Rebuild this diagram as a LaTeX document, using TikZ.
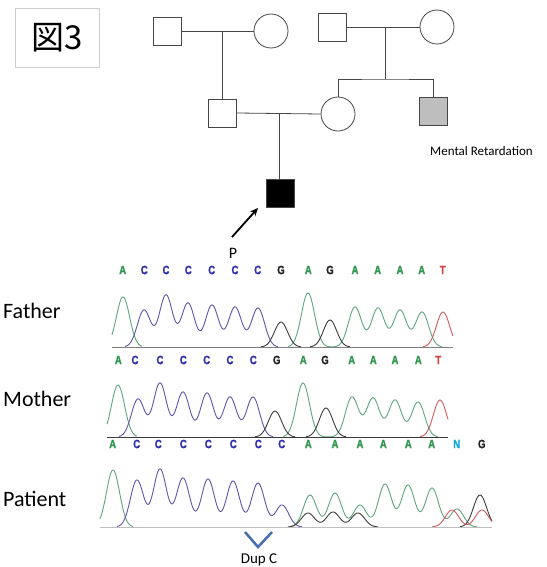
\documentclass[tikz,border=0pt]{standalone}
\usepackage{fontspec}
\setmainfont{Carlito}
\newfontfamily\cjkfont{Noto Sans CJK JP}
\newfontfamily\seqfont[FakeStretch=0.8, FakeBold=1.2]{Liberation Sans}
\usetikzlibrary{arrows.meta}
\definecolor{cA}{RGB}{50,150,80}
\definecolor{tA}{RGB}{95,165,125}
\definecolor{cC}{RGB}{45,45,175}
\definecolor{tC}{RGB}{95,85,170}
\definecolor{cG}{RGB}{35,35,35}
\definecolor{tG}{RGB}{60,60,60}
\definecolor{cT}{RGB}{210,60,60}
\definecolor{tT}{RGB}{210,90,90}
\definecolor{cN}{RGB}{20,170,220}
\definecolor{pedline}{RGB}{70,70,70}
\definecolor{dupblue}{RGB}{70,110,180}
\tikzset{
  ped/.style={draw=pedline, line width=0.8pt},
  male/.style={ped, minimum size=28pt, inner sep=0pt, fill=white},
  female/.style={ped, circle, minimum size=34pt, inner sep=0pt, fill=white},
  seq/.style={font=\seqfont\bfseries\fontsize{12}{12}\selectfont, inner sep=0pt, anchor=center},
  lbl/.style={font=\fontsize{22}{22}\selectfont, anchor=base west, inner sep=0pt},
  trace/.style={line width=0.9pt, smooth},
  basel/.style={line width=0.9pt},
}
\begin{document}
\begin{tikzpicture}[x=1pt,y=-1pt, declare function={gp(\t,\c,\h)=\h*exp(-((\t-\c)/9.3)^2);}]
\useasboundingbox (0,0) rectangle (546,567);
\fill[white] (0,0) rectangle (546,567);

% title box
\node[draw={rgb,255:red,205;green,205;blue,205}, line width=0.8pt, minimum width=84pt, minimum height=59pt, inner sep=0pt, font=\cjkfont\fontsize{33}{33}\selectfont] (title) at (57,38) {図3};

% pedigree
\node[male] (pgf) at (167,31) {};
\node[female] (pgm) at (271,31) {};
\node[male] (mgf) at (332,27) {};
\node[female] (mgm) at (437,27) {};
\node[male] (fa) at (222,113) {};
\node[female] (mo) at (338,114) {};
\node[male, fill={rgb,255:red,190;green,190;blue,190}] (mr) at (433,111) {};
\node[male, fill=black] (pt) at (280,193) {};
\coordinate (c1) at (222,31);
\coordinate (c2) at (385,27);
\coordinate (s2) at (385,79);
\coordinate (c3) at (279,113);
\draw[ped] (pgf.east) -- (pgm.west);
\draw[ped] (c1) -- (fa.north);
\draw[ped] (mgf.east) -- (mgm.west);
\draw[ped] (c2) -- (s2);
\draw[ped] (mo.north) |- (s2) -| (mr.north);
\draw[ped] (fa.east) -- (mo.west);
\draw[ped] (c3) -- (c3 |- pt.north);
\coordinate (ar) at (232,237);
\draw[line width=1.8pt, -{Stealth[length=8pt,width=7pt]}] (ar) -- (258,208);
\node[font=\fontsize{16}{16}\selectfont, anchor=base, inner sep=0pt] (plab) at (233,258) {P};
\node[font=\fontsize{13}{13}\selectfont, anchor=base west, inner sep=0pt] (mrl) at (430,155) {Mental Retardation};

% labels
\node[lbl] (lf) at (3,318) {Father};
\node[lbl] (lm) at (3,406) {Mother};
\node[lbl] (lp) at (3,506) {Patient};

% ---- Father chromatogram (base 347)
\foreach \x/\l/\c [count=\i] in {122.7/A/cA,144.3/C/cC,166/C/cC,188.3/C/cC,211.7/C/cC,235/C/cC,257.7/C/cC,281/G/cG,308.3/A/cA,330/G/cG,355/A/cA,377.7/A/cA,400/A/cA,421.7/A/cA,442.7/T/cT}
  \node[seq, text=\c] (fs\i) at (\x,270) {\l};
\draw[trace, tA] plot[domain=112:142, samples=40] (\x,{347-gp(\x,123,50)});
\draw[trace, tA] plot[domain=288:442, samples=160] (\x,{347-gp(\x,308,54)-gp(\x,355,40)-gp(\x,378,39)-gp(\x,400,37)-gp(\x,422,35)});
\draw[trace, tC] plot[domain=125:278, samples=160] (\x,{347-gp(\x,144,37)-gp(\x,166,52)-gp(\x,188,44)-gp(\x,212,42)-gp(\x,235,40)-gp(\x,258,39)});
\draw[trace, tG] plot[domain=261:301, samples=40] (\x,{347-gp(\x,281,25)});
\draw[trace, tG] plot[domain=310:350, samples=40] (\x,{347-gp(\x,330,27)});
\draw[trace, tT] plot[domain=423:453, samples=40] (\x,{347-gp(\x,443,35)});
\coordinate (fb0) at (112,347);
\coordinate (fb1) at (453,347);
\draw[basel, gray] (fb0) -- (fb1);

% ---- Mother chromatogram (base 437)
\foreach \x/\l/\c [count=\i] in {118.3/A/cA,135/C/cC,160/C/cC,183.3/C/cC,206.7/C/cC,230/C/cC,253.3/C/cC,276.7/G/cG,303.3/A/cA,325/G/cG,351.7/A/cA,373.3/A/cA,395/A/cA,418.3/A/cA,438.3/T/cT}
  \node[seq, text=\c] (ms\i) at (\x,360) {\l};
\draw[trace, tA] plot[domain=107:137, samples=40] (\x,{437-gp(\x,118,52)});
\draw[trace, tA] plot[domain=283:438, samples=160] (\x,{437-gp(\x,303,54)-gp(\x,352,40)-gp(\x,373,39)-gp(\x,395,37)-gp(\x,418,35)});
\draw[trace, tC] plot[domain=119:273, samples=160] (\x,{437-gp(\x,138,38)-gp(\x,160,54)-gp(\x,183,45)-gp(\x,207,44)-gp(\x,230,40)-gp(\x,253,40)});
\draw[trace, tG] plot[domain=255:295, samples=40] (\x,{437-gp(\x,275,26)});
\draw[trace, tG] plot[domain=306:346, samples=40] (\x,{437-gp(\x,326,29)});
\draw[trace, tT] plot[domain=420:448, samples=40] (\x,{437-gp(\x,440,37)});
\coordinate (mb0) at (107,437);
\coordinate (mb1) at (448,437);
\draw[basel, tG] (mb0) -- (mb1);

% ---- Patient chromatogram (base 527)
\foreach \x/\l/\c [count=\i] in {112.7/A/cA,136.7/C/cC,158.3/C/cC,183.3/C/cC,208.3/C/cC,233.3/C/cC,258.3/C/cC,281.7/C/cC,308.3/A/cA,335/A/cA,360/A/cA,383.3/A/cA,408.3/A/cA,431.7/A/cA,456.7/N/cN,481.7/G/cG}
  \node[seq, text=\c] (ps\i) at (\x,444) {\l};
\draw[trace, tA] plot[domain=100:133, samples=40] (\x,{527-gp(\x,113,57)});
\draw[trace, tA] plot[domain=290:477, samples=190] (\x,{527-gp(\x,310,32)-gp(\x,335,34)-gp(\x,360,22)-gp(\x,385,43)-gp(\x,408,42)-gp(\x,432,39)-gp(\x,457,18)});
\draw[trace, tC] plot[domain=117:302, samples=190] (\x,{527-gp(\x,137,47)-gp(\x,160,58)-gp(\x,183,49)-gp(\x,208,48)-gp(\x,233,46)-gp(\x,258,44)-gp(\x,282,22)});
\draw[trace, tG] plot[domain=288:378, samples=90] (\x,{527-gp(\x,308,14)-gp(\x,333,15)-gp(\x,358,14)});
\draw[trace, tG] plot[domain=460:492, samples=40] (\x,{527-gp(\x,480,32)});
\draw[trace, tT] plot[domain=432:492, samples=60] (\x,{527-gp(\x,452,17)-gp(\x,482,17)});
\coordinate (pb0) at (100,527);
\coordinate (pb1) at (492,527);
\draw[basel, gray!50] (pb0) -- (pb1);

% Dup C marker
\coordinate (v0) at (245,532);
\coordinate (v1) at (258,547);
\coordinate (v2) at (272,532);
\draw[dupblue, line width=2.5pt] (v0) -- (v1) -- (v2);
\node[font=\fontsize{15}{15}\selectfont, anchor=base, inner sep=0pt] (dup) at (259,563) {Dup C};
\end{tikzpicture}
\end{document}
